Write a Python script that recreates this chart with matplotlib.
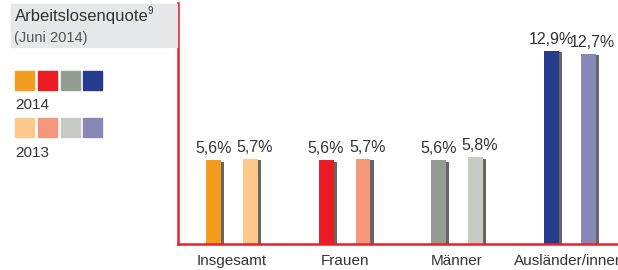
import numpy as np
import matplotlib
matplotlib.use('Agg')
import matplotlib.pyplot as plt
from matplotlib.patches import Rectangle

# data
categories = ['Insgesamt', 'Frauen', 'Männer', 'Ausländer/innen']
values_2014 = [5.6, 5.6, 5.6, 12.9]
values_2013 = [5.7, 5.7, 5.8, 12.7]
labels_2014 = ['5,6%', '5,6%', '5,6%', '12,9%']
labels_2013 = ['5,7%', '5,7%', '5,8%', '12,7%']
colors_2014 = ['#f39c1f', '#ed1c24', '#939d92', '#253d8c']
colors_2013 = ['#fdc98a', '#f5977a', '#c8cbc3', '#8788b8']

plt.rcParams['font.family'] = ['Liberation Sans Narrow', 'Liberation Sans', 'DejaVu Sans']
red = '#e8202a'
txt = '#333333'

fig = plt.figure(figsize=(6.18, 2.7), dpi=100)
ax = fig.add_axes([178/618, 26/270, 440/618, 241/270])

x = np.arange(len(categories))
w = 0.133
off = 0.164
shadow_dx = 0.03
# (values, labels, colours, side, label shift)
for vals, labs, cols, sgn, lshift in [(values_2014, labels_2014, colors_2014, -1, 0.0),
                                      (values_2013, labels_2013, colors_2013, 1, 0.04)]:
    pos = x + sgn * off
    # shadow
    ax.bar(pos + shadow_dx, np.array(vals) - 0.12, width=w, color='#666666', zorder=1)
    ax.bar(pos, vals, width=w, color=cols, zorder=2)
    for p, v, l in zip(pos, vals, labs):
        ax.text(p + lshift, v + 0.25, l, ha='center', va='bottom', fontsize=11.5, color=txt)

ax.set_xlim(-0.48, 3.43)
ax.set_ylim(0, 16.07)
ax.set_xticks(x)
ax.set_xticklabels(categories, fontsize=11, color=txt)
ax.tick_params(axis='x', length=0, pad=7)
ax.set_yticks([])
for s in ['top', 'right']:
    ax.spines[s].set_visible(False)
ax.spines['left'].set_color(red)
ax.spines['bottom'].set_color(red)
ax.spines['left'].set_linewidth(1.8)
ax.spines['bottom'].set_linewidth(1.8)
ax.spines['left'].set_zorder(3)
ax.spines['bottom'].set_zorder(3)

# legend / title box
def px(xp, yp):
    return xp / 618, 1 - yp / 270

bx, by = px(11, 47)
fig.patches.append(Rectangle((bx, by), (177 - 11) / 618, 43 / 270,
                             transform=fig.transFigure, color='#e6e7e8', zorder=0))
fig.text(*px(15, 16), 'Arbeitslosenquote', fontsize=12, color=txt, va='center')
fig.text(*px(148, 11), '9', fontsize=7, color=txt, va='center')
fig.text(*px(14, 38), '(Juni 2014)', fontsize=10.5, color='#555555', va='center')

sq_x = [15, 38, 61, 83]
for i in range(4):
    sx, sy = px(sq_x[i], 90)
    fig.patches.append(Rectangle((sx, sy), 19 / 618, 19 / 270,
                                 transform=fig.transFigure, color=colors_2014[i]))
    sx, sy = px(sq_x[i], 137)
    fig.patches.append(Rectangle((sx, sy), 19 / 618, 19 / 270,
                                 transform=fig.transFigure, color=colors_2013[i]))
fig.text(*px(15, 105), '2014', fontsize=11, color=txt, va='center')
fig.text(*px(15, 153), '2013', fontsize=11, color=txt, va='center')

fig.savefig('out.png', dpi=100)
